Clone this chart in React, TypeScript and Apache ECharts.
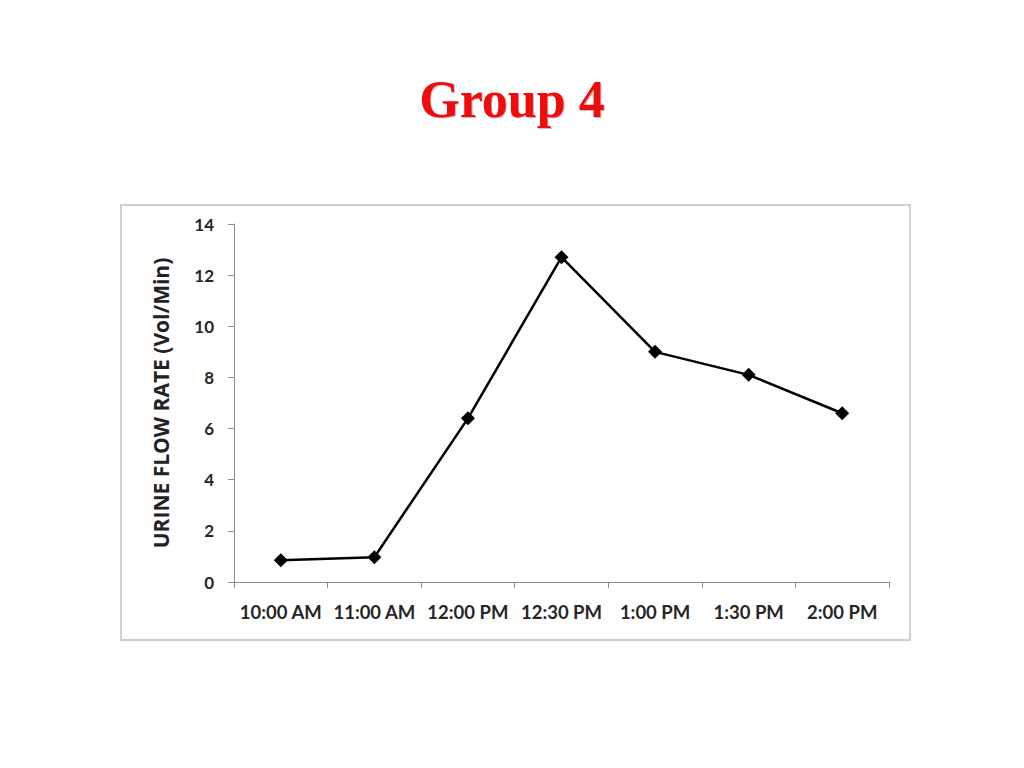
import React, { useEffect, useRef } from "react";
import * as echarts from "echarts";

const categories = ["10:00 AM", "11:00 AM", "12:00 PM", "12:30 PM", "1:00 PM", "1:30 PM", "2:00 PM"];
const flowRate = [0.85, 0.97, 6.4, 12.7, 9.0, 8.1, 6.6];
const yTicks = { min: 0, max: 14, interval: 2 };
const title = "Group 4";
const yAxisName = "URINE FLOW RATE (Vol/Min)";

export default function App() {
  const ref = useRef<HTMLDivElement>(null);
  useEffect(() => {
    const chart = echarts.init(ref.current!, undefined, { renderer: "svg" });
    chart.setOption({
      animation: false,
      backgroundColor: "#ffffff",
      title: {
        text: title,
        left: "center",
        top: 68,
        textStyle: {
          fontFamily: "Liberation Serif",
          fontWeight: "bold",
          fontSize: 52,
          color: "#ee1111",
          textShadowColor: "rgba(0,0,0,0.25)",
          textShadowOffsetX: 1,
          textShadowOffsetY: 1,
          textShadowBlur: 1,
        },
      },
      graphic: [
        {
          type: "rect",
          shape: { x: 121, y: 205, width: 789, height: 435 },
          style: { fill: "none", stroke: "#cfcfcf", lineWidth: 2 },
          silent: true,
        },
      ],
      grid: { left: 234, right: 135, top: 224, bottom: 186 },
      xAxis: {
        type: "category",
        data: categories,
        boundaryGap: true,
        axisLine: { lineStyle: { color: "#8c8c8c", width: 1 } },
        axisTick: { show: true, interval: 0, length: 6, lineStyle: { color: "#8c8c8c" } },
        axisLabel: {
          interval: 0,
          margin: 20,
          fontFamily: "Lato",
          fontWeight: "bold",
          fontSize: 18.5,
          color: "#262626",
        },
      },
      yAxis: {
        type: "value",
        min: yTicks.min,
        max: yTicks.max,
        interval: yTicks.interval,
        name: yAxisName,
        nameLocation: "middle",
        nameRotate: 90,
        nameGap: 63,
        nameTextStyle: {
          fontFamily: "Open Sans",
          fontWeight: "bold",
          fontSize: 21,
          color: "#222222",
        },
        splitLine: { show: false },
        axisLine: { show: true, lineStyle: { color: "#8c8c8c", width: 1 } },
        axisTick: { show: true, length: 6, lineStyle: { color: "#8c8c8c" } },
        axisLabel: {
          margin: 20,
          fontFamily: "Lato",
          fontWeight: "bold",
          fontSize: 17,
          color: "#262626",
        },
      },
      series: [
        {
          type: "line",
          data: flowRate,
          symbol: "diamond",
          symbolSize: 14,
          lineStyle: { color: "#000000", width: 2.5 },
          itemStyle: { color: "#000000" },
        },
      ],
    });
    return () => chart.dispose();
  }, []);
  return (
    <div
      ref={ref}
      style={{ position: "fixed", left: 0, top: 0, width: 1024, height: 768 }}
    />
  );
}
